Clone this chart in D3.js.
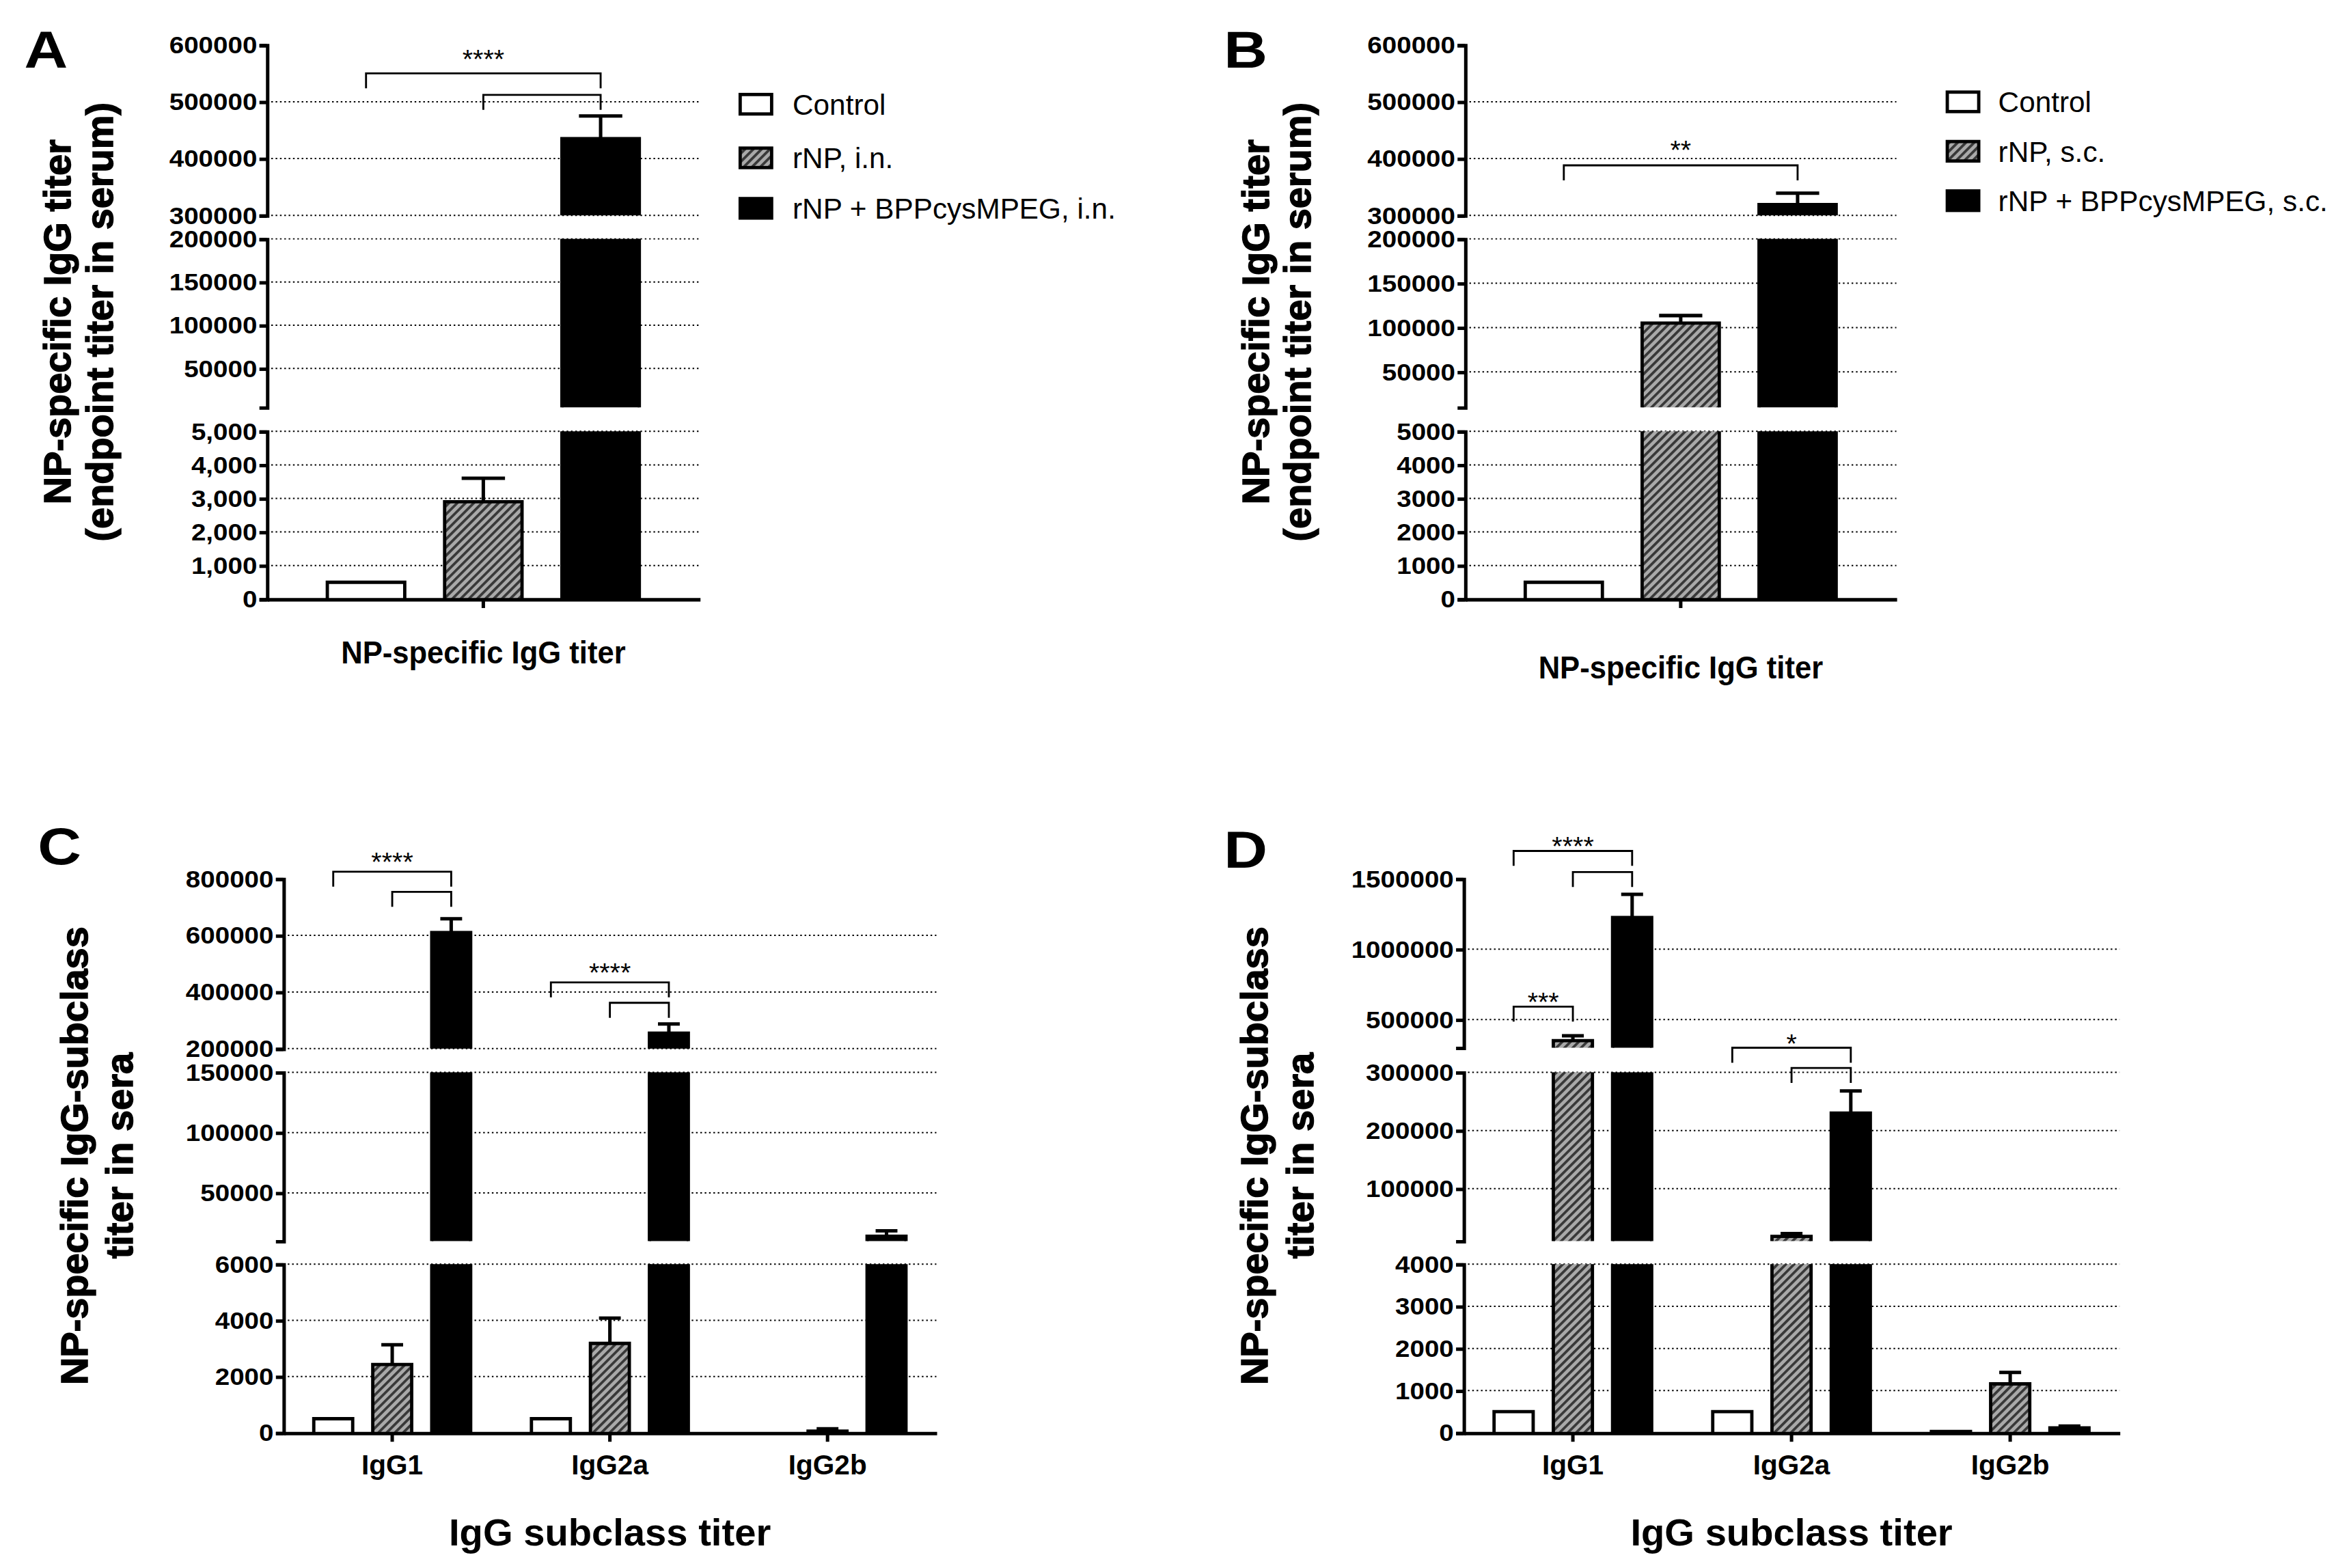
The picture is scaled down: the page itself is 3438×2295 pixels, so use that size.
<!DOCTYPE html>
<html>
<head>
<meta charset="utf-8">
<script src="https://cdn.jsdelivr.net/npm/d3@7"></script>
<style>
body { margin: 0; background: #fff; }
</style>
</head>
<body>
<script>
'use strict';

// ---- data ----
const seriesA = ["Control", "rNP, i.n.", "rNP + BPPcysMPEG, i.n."];
const seriesB = ["Control", "rNP, s.c.", "rNP + BPPcysMPEG, s.c."];
const groupAB = ["NP-specific IgG"];
const subclasses = ["IgG1", "IgG2a", "IgG2b"];

// panel A / B: mean titer and upper error (SEM) per group
const titerA = [500, 2900, 435000];
const semA = [0, 700, 40000];
const titerB = [500, 105000, 319000];
const semB = [0, 8500, 20000];

// panel C: per subclass
const controlC = [500, 500, 0];
const rnpC = [2430, 3180, 60];
const adjC = [610000, 255000, 14000];
const semControlC = [0, 0, 0];
const semRnpC = [700, 900, 80];
const semAdjC = [49000, 32000, 4500];

// panel D: per subclass
const controlD = [500, 500, 30];
const rnpD = [350000, 18000, 1160];
const adjD = [1225000, 230000, 115];
const semControlD = [0, 0, 0];
const semRnpD = [35000, 5000, 270];
const semAdjD = [165000, 38000, 45];

// broken y axes: segments top to bottom, and their tick values
const breaksA = [[300000, 600000], [5000, 200000], [0, 5000]];
const ticksA = [[300000, 400000, 500000, 600000], [50000, 100000, 150000, 200000], [0, 1000, 2000, 3000, 4000, 5000]];
const breaksB = [[300000, 600000], [10000, 200000], [0, 5000]];
const ticksB = [[300000, 400000, 500000, 600000], [50000, 100000, 150000, 200000], [0, 1000, 2000, 3000, 4000, 5000]];
const breaksC = [[200000, 800000], [10000, 150000], [0, 6000]];
const ticksC = [[200000, 400000, 600000, 800000], [50000, 100000, 150000], [0, 2000, 4000, 6000]];
const breaksD = [[300000, 1500000], [10000, 300000], [0, 4000]];
const ticksD = [[500000, 1000000, 1500000], [100000, 200000, 300000], [0, 1000, 2000, 3000, 4000]];

// significance brackets: group, bar from/to, height (top segment units), label
const sigA = [
	{ group: 0, from: 0, to: 2, at: 550000, label: "****" },
	{ group: 0, from: 1, to: 2, at: 512000, label: "" }
];
const sigB = [
	{ group: 0, from: 0, to: 2, at: 388000, label: "**" }
];
const sigC = [
	{ group: 0, from: 0, to: 2, at: 825000, label: "****" },
	{ group: 0, from: 1, to: 2, at: 754000, label: "" },
	{ group: 1, from: 0, to: 2, at: 434000, label: "****" },
	{ group: 1, from: 1, to: 2, at: 362000, label: "" }
];
const sigD = [
	{ group: 0, from: 0, to: 2, at: 1698000, label: "****" },
	{ group: 0, from: 1, to: 2, at: 1548000, label: "" },
	{ group: 0, from: 0, to: 1, at: 592000, label: "***" },
	{ group: 1, from: 0, to: 2, at: 300000, label: "*" },
	{ group: 1, from: 1, to: 2, at: 156000, label: "" }
];

// ---- drawing ----
const FONT = '"Liberation Sans", Arial, Helvetica, sans-serif';
const fills = ["#fff", "url(#hatch)", "#000"];
const plain = d3.format("d");
const comma = d3.format(",");

const svg = d3.select("body")
	.append("svg")
	.attr("width", 3438)
	.attr("height", 2295)
	.attr("viewBox", "0 0 1568 1047")
	.attr("font-family", FONT);

const pat = svg.append("defs").append("pattern")
	.attr("id", "hatch")
	.attr("patternUnits", "userSpaceOnUse")
	.attr("width", 3.9)
	.attr("height", 3.9)
	.attr("patternTransform", "rotate(45)");
pat.append("rect").attr("width", 3.9).attr("height", 3.9).attr("fill", "#a9a9a9");
pat.append("rect").attr("width", 1.7).attr("height", 3.9).attr("fill", "#383838");

// widen text horizontally the way the figure's labels are
const stretch = (sel, k) => sel.each(function () {
	const w = this.getComputedTextLength();
	this.setAttribute("textLength", w * k);
	this.setAttribute("lengthAdjust", "spacingAndGlyphs");
});

const panels = [
	{
		letter: "A", letterPos: [16, 45],
		groups: groupAB, groupLabels: false,
		series: seriesA,
		values: titerA.map(v => [v]), errors: semA.map(e => [e]),
		breaks: breaksA, ticks: ticksA, formats: [plain, plain, comma],
		sig: sigA, starGap: 11,
		xLeft: 178, xRight: 467,
		segY: [[143.8, 30], [272, 159.5], [400, 288]],
		yTitle: ["NP-specific IgG titer", "(endpoint titer in serum)"], yTitleX: [46.8, 75],
		xTitle: "NP-specific IgG titer", xTitleY: 443, xTitleSize: 21, xTitleLen: 190,
		legend: { x: 494, y: [69.6, 105.4, 139.1], textX: 529 }
	},
	{
		letter: "B", letterPos: [817, 45],
		groups: groupAB, groupLabels: false,
		series: seriesB,
		values: titerB.map(v => [v]), errors: semB.map(e => [e]),
		breaks: breaksB, ticks: ticksB, formats: [plain, plain, plain],
		sig: sigB, starGap: 12,
		xLeft: 978, xRight: 1266,
		segY: [[143.8, 30], [272, 159.5], [400, 288]],
		yTitle: ["NP-specific IgG titer", "(endpoint titer in serum)"], yTitleX: [846.8, 875],
		xTitle: "NP-specific IgG titer", xTitleY: 453, xTitleSize: 21, xTitleLen: 190,
		legend: { x: 1300, y: [68, 101, 134], textX: 1334 }
	},
	{
		letter: "C", letterPos: [25, 577],
		groups: subclasses, groupLabels: true,
		series: seriesA,
		values: [controlC, rnpC, adjC], errors: [semControlC, semRnpC, semAdjC],
		breaks: breaksC, ticks: ticksC, formats: [plain, plain, plain],
		sig: sigC, starGap: 8,
		xLeft: 189, xRight: 625,
		segY: [[700.2, 586.8], [828.7, 716], [956.7, 844.1]],
		yTitle: ["NP-specific IgG-subclass", "titer in sera"], yTitleX: [58, 88.5],
		xTitle: "IgG subclass titer", xTitleY: 1032, xTitleSize: 25, xTitleLen: 215,
		legend: null
	},
	{
		letter: "D", letterPos: [817, 579.5],
		groups: subclasses, groupLabels: true,
		series: seriesB,
		values: [controlD, rnpD, adjD], errors: [semControlD, semRnpD, semAdjD],
		breaks: breaksD, ticks: ticksD, formats: [plain, plain, plain],
		sig: sigD, starGap: 4.5,
		xLeft: 977, xRight: 1415,
		segY: [[699.6, 586.8], [828.7, 716], [956.7, 844.1]],
		yTitle: ["NP-specific IgG-subclass", "titer in sera"], yTitleX: [846, 876.5],
		xTitle: "IgG subclass titer", xTitleY: 1032, xTitleSize: 25, xTitleLen: 215,
		legend: null
	}
];

const drawPanel = (p) => {
	const g = svg.append("g").attr("id", "panel" + p.letter);
	const segs = p.breaks.map((dom, i) => d3.scaleLinear().domain(dom).range(p.segY[i]));
	const x0 = d3.scaleBand().domain(p.groups).range([p.xLeft, p.xRight]);
	const x1 = d3.scaleBand()
		.domain(d3.range(p.values.length))
		.range([0, x0.bandwidth()])
		.paddingInner(0.34)
		.paddingOuter(0.515);
	const bw = x1.bandwidth();
	const topValue = p.breaks[0][1];
	const barX = (gi, si) => x0(p.groups[gi]) + x1(si);

	// dotted grid
	const grid = g.append("g")
		.attr("stroke", "#000")
		.attr("stroke-width", 0.9)
		.attr("stroke-dasharray", "1.1 1.8");
	p.ticks.forEach((tv, i) => {
		grid.selectAll(null)
			.data(tv.filter(t => t !== 0 && t !== topValue))
			.join("line")
			.attr("x1", p.xLeft)
			.attr("x2", p.xRight)
			.attr("y1", d => segs[i](d))
			.attr("y2", d => segs[i](d));
	});

	// bars, one piece per axis segment
	const bars = g.append("g");
	p.values.forEach((row, si) => {
		row.forEach((v, gi) => {
			const x = barX(gi, si);
			segs.forEach(s => {
				const [lo, hi] = s.domain();
				if (v <= lo) return;
				const top = Math.min(v, hi);
				bars.append("rect")
					.attr("x", x).attr("y", s(top))
					.attr("width", bw).attr("height", s(lo) - s(top))
					.attr("fill", fills[si]);
				const d = v <= hi
					? `M${x},${s(lo)}V${s(top)}H${x + bw}V${s(lo)}`
					: `M${x},${s(lo)}V${s(top)}M${x + bw},${s(top)}V${s(lo)}`;
				bars.append("path")
					.attr("d", d)
					.attr("fill", "none")
					.attr("stroke", "#000")
					.attr("stroke-width", 2.2);
			});
			const e = p.errors[si][gi];
			if (e > 0) {
				const s = segs.find(sc => v > sc.domain()[0] && v <= sc.domain()[1]);
				const cx = x + bw / 2;
				const capW = bw * 0.56;
				bars.append("path")
					.attr("d", `M${cx},${s(v)}V${s(v + e)}M${cx - capW / 2},${s(v + e)}H${cx + capW / 2}`)
					.attr("fill", "none")
					.attr("stroke", "#000")
					.attr("stroke-width", 2.3);
			}
		});
	});

	// broken y axis
	segs.forEach((s, i) => {
		const ax = g.append("g")
			.attr("transform", `translate(${p.xLeft},0)`)
			.call(d3.axisLeft(s)
				.tickValues(p.ticks[i])
				.tickFormat(p.formats[i])
				.tickSize(5)
				.tickSizeOuter(5)
				.tickPadding(1.5))
			.attr("font-family", FONT)
			.attr("font-size", 16)
			.attr("font-weight", "bold");
		ax.select(".domain").attr("stroke-width", 2.3);
		ax.selectAll(".tick line").attr("stroke-width", 2.3);
		stretch(ax.selectAll("text").attr("fill", "#000"), 1.1);
	});

	// x axis
	const xa = g.append("g")
		.attr("transform", `translate(0,${p.segY[2][0]})`)
		.call(d3.axisBottom(x0)
			.tickSize(6)
			.tickSizeOuter(0)
			.tickPadding(8.5)
			.tickFormat(p.groupLabels ? d => d : () => ""))
		.attr("font-family", FONT)
		.attr("font-size", 18.5)
		.attr("font-weight", "bold");
	xa.select(".domain").attr("stroke-width", 2.3);
	xa.selectAll(".tick line").attr("stroke-width", 2.3);
	xa.selectAll("text").attr("fill", "#000");

	// significance brackets
	const sig = g.append("g");
	p.sig.forEach(s => {
		const xa0 = barX(s.group, s.from) + bw / 2;
		const xb0 = barX(s.group, s.to) + bw / 2;
		const y = segs[0](s.at);
		sig.append("path")
			.attr("d", `M${xa0},${y + 10}V${y}H${xb0}V${y + 10}`)
			.attr("fill", "none")
			.attr("stroke", "#000")
			.attr("stroke-width", 1.3);
		if (s.label) {
			sig.append("text")
				.attr("x", (xa0 + xb0) / 2)
				.attr("y", y - p.starGap + 7.7)
				.attr("text-anchor", "middle")
				.attr("font-size", 18)
				.text(s.label);
		}
	});

	// axis titles
	p.yTitle.forEach((t, j) => {
		g.append("text")
			.attr("transform", `translate(${p.yTitleX[j]},${(p.segY[0][1] + p.segY[2][0]) / 2}) rotate(-90)`)
			.attr("text-anchor", "middle")
			.attr("font-size", 25.5)
			.attr("font-weight", "bold")
			.attr("stroke", "#000")
			.attr("stroke-width", 0.7)
			.text(t);
	});
	g.append("text")
		.attr("x", (p.xLeft + p.xRight) / 2)
		.attr("y", p.xTitleY)
		.attr("text-anchor", "middle")
		.attr("font-size", p.xTitleSize)
		.attr("font-weight", "bold")
		.attr("textLength", p.xTitleLen)
		.attr("lengthAdjust", "spacingAndGlyphs")
		.text(p.xTitle);

	// panel letter
	stretch(g.append("text")
		.attr("x", p.letterPos[0])
		.attr("y", p.letterPos[1])
		.attr("font-size", 35)
		.attr("font-weight", "bold")
		.text(p.letter), 1.15);

	// legend
	if (p.legend) {
		const lg = g.append("g");
		p.series.forEach((name, si) => {
			const cy = p.legend.y[si];
			lg.append("rect")
				.attr("x", p.legend.x).attr("y", cy - 6.5)
				.attr("width", 21).attr("height", 13)
				.attr("fill", fills[si])
				.attr("stroke", "#000")
				.attr("stroke-width", 2.2);
			lg.append("text")
				.attr("x", p.legend.textX)
				.attr("y", cy + 7)
				.attr("font-size", 19.3)
				.text(name);
		});
	}
};

panels.forEach(drawPanel);
</script>
</body>
</html>
